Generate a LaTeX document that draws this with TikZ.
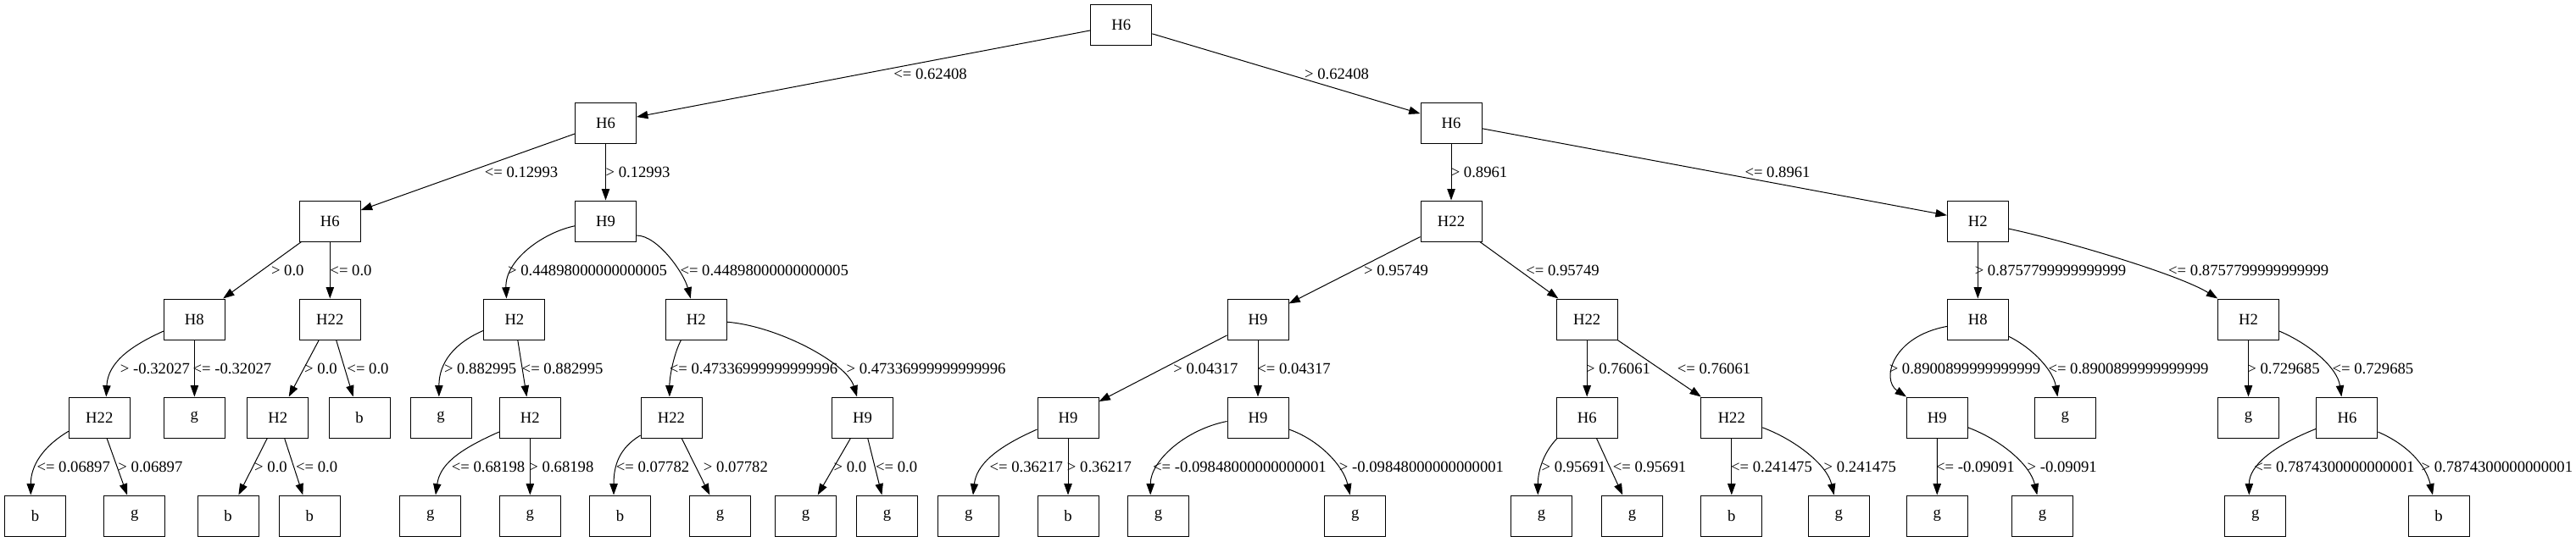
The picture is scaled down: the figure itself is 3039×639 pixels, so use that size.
\documentclass[tikz,border=0pt]{standalone}
\usepackage{fontspec}
\setmainfont{Liberation Serif}
\usetikzlibrary{arrows.meta}
\begin{document}
\begin{tikzpicture}[x=0.75pt,y=-0.75pt,
    box/.style={draw, line width=0.75pt, minimum width=54pt, minimum height=36pt,
      inner sep=0pt, font=\fontsize{14}{17}\selectfont},
    lbl/.style={inner sep=0pt, font=\fontsize{14}{17}\selectfont},
    arr/.style={line width=0.75pt, -{Triangle[length=10pt,width=7pt]}}]
  \useasboundingbox (0,0) rectangle (3039,639);

  % Split nodes, one row per depth (l = left, r = right)
  \foreach \n/\x/\y/\t in {
    root/1322.8/29/H6,
    l/714.5/145/H6, r/1712/145/H6,
    ll/389.3/261/H6, lr/714.5/261/H9, rl/1712/261/H22, rr/2333.3/261/H2,
    lll/229.4/377/H8, llr/389.3/377/H22, lrl/606.9/377/H2, lrr/821.3/377/H2,
    rll/1484/377/H9, rlr/1872.2/377/H22, rrl/2333.3/377/H8, rrr/2652.5/377/H2,
    llll/117.3/493/H22, lllr/229.4/493/g, llrl/327.7/493/H2, llrr/424/493/b,
    lrll/520/493/g, lrlr/625.3/493/H2, lrrl/792/493/H22, lrrr/1017.6/493/H9,
    rlll/1260/493/H9, rllr/1484/493/H9, rlrl/1872.2/493/H6, rlrr/2042.8/493/H22,
    rrll/2285.3/493/H9, rrlr/2436.3/493/g, rrrl/2652.5/493/g, rrrr/2768.9/493/H6} {
    \node [box] (\n) at (\x,\y) {\t};
  }
  % Leaves on the bottom row
  \foreach \n/\x/\t in {
    lllll/41.5/b, llllr/158.8/g, llrll/269/b, llrlr/365.3/b,
    lrlrl/507.8/g, lrlrr/625.3/g, lrrll/731.5/b, lrrlr/849.5/g,
    lrrrl/950.5/g, lrrrr/1046.5/g, rllll/1142.7/g, rlllr/1260/b,
    rllrl/1366.6/g, rllrr/1598.8/g, rlrll/1818.6/g, rlrlr/1925.5/g,
    rlrrl/2042.8/b, rlrrr/2169.3/g, rrlll/2285.2/g, rrllr/2409.4/g,
    rrrrl/2660.8/g, rrrrr/2877/b} {
    \node [box] (\n) at (\x,609) {\t};
  }

  % Straight edges
  \foreach \a/\b in {root/l, root/r, l/ll, l/lr, r/rl, r/rr, ll/lll, ll/llr,
    rl/rll, rl/rlr, rr/rrl, lll/lllr, llr/llrl, llr/llrr, lrl/lrlr, rll/rlll,
    rll/rllr, rlr/rlrl, rlr/rlrr, rrr/rrrl, llll/llllr, llrl/llrll, llrl/llrlr,
    lrlr/lrlrr, lrrl/lrrlr, lrrr/lrrrl, lrrr/lrrrr, rlll/rlllr, rlrl/rlrlr,
    rlrr/rlrrl, rrll/rrlll} {
    \draw [arr] (\a) -- (\b);
  }
  % Curved edges: start anchor, end anchor, control offsets
  \foreach \a/\sa/\b/\ba/\ux/\uy/\vx/\vy in {
    lr/189/lrl/111/-38/8/-2/-45,
    lr/335/lrr/105/25/0/-8/-30,
    lll/201/llll/72/-40/18/2/-40,
    lrl/200/lrll/95/-35/15/0/-40,
    lrr/234/lrrl/95/-8/15/0/-25,
    lrr/355/lrrr/105/60/5/-12/-40,
    rr/346/rrr/146/70/15/-45/-28,
    rrl/193/rrll/146/-65/12/-30/-20,
    rrl/331/rrlr/110/30/15/-5/-30,
    rrr/339/rrrr/105/35/15/-5/-35,
    llll/204/lllll/102/-30/18/0/-35,
    lrlr/205/lrlrl/76/-50/22/5/-35,
    lrrl/210/lrrll/107/-25/15/0/-35,
    rlll/201/rllll/78/-50/22/4/-35,
    rllr/187/rllrl/111/-50/10/0/-40,
    rllr/339/rllrr/104/35/12/-8/-35,
    rlrl/215/rlrll/100/-15/15/0/-30,
    rlrr/342/rlrrr/103/40/15/-8/-35,
    rrll/342/rrllr/104/40/15/-8/-35,
    rrrr/200/rrrrl/107/-50/20/0/-35,
    rrrr/335/rrrrr/106/35/15/-8/-35} {
    \draw [arr] (\a.\sa) .. controls +(\ux,\uy) and +(\vx,\vy) .. (\b.\ba);
  }

  % Edge labels, named after the child node
  \foreach \c/\x/\y/\t in {
    l/1097.6/87/<= 0.62408, r/1577/87/> 0.62408,
    ll/615/203/<= 0.12993, lr/752.5/203/> 0.12993,
    rl/1745/203/> 0.8961, rr/2097/203/<= 0.8961,
    lll/339.3/319/> 0.0, llr/414/319/<= 0.0,
    lrl/693/319/> 0.44898000000000005, lrr/901.7/319/<= 0.44898000000000005,
    rll/1647/319/> 0.95749, rlr/1843.5/319/<= 0.95749,
    rrl/2419/319/> 0.8757799999999999, rrr/2652.7/319/<= 0.8757799999999999,
    llll/183/435/> -0.32027, lllr/274/435/<= -0.32027,
    llrl/378.5/435/> 0.0, llrr/434/435/<= 0.0,
    lrll/566.6/435/> 0.882995, lrlr/663.6/435/<= 0.882995,
    lrrl/889/435/<= 0.47336999999999996, lrrr/1092.5/435/> 0.47336999999999996,
    rlll/1422.4/435/> 0.04317, rllr/1526.5/435/<= 0.04317,
    rlrl/1909/435/> 0.76061, rlrr/2022/435/<= 0.76061,
    rrll/2318/435/> 0.8900899999999999, rrlr/2511/435/<= 0.8900899999999999,
    rrrl/2694/435/> 0.729685, rrrr/2799.4/435/<= 0.729685,
    lllll/86.7/551/<= 0.06897, llllr/177.4/551/> 0.06897,
    llrll/319.5/551/> 0.0, llrlr/373.7/551/<= 0.0,
    lrlrl/576/551/<= 0.68198, lrlrr/662.4/551/> 0.68198,
    lrrll/770/551/<= 0.07782, lrrlr/867.9/551/> 0.07782,
    lrrrl/1002.9/551/> 0.0, lrrrr/1057.6/551/<= 0.0,
    rllll/1210.8/551/<= 0.36217, rlllr/1296.9/551/> 0.36217,
    rllrl/1462.4/551/<= -0.09848000000000001, rllrr/1677/551/> -0.09848000000000001,
    rlrll/1856.6/551/> 0.95691, rlrlr/1946/551/<= 0.95691,
    rlrrl/2090/551/<= 0.241475, rlrrr/2194.3/551/> 0.241475,
    rrlll/2330.4/551/<= -0.09091, rrllr/2432.7/551/> -0.09091,
    rrrrl/2753.9/551/<= 0.7874300000000001, rrrrr/2945.8/551/> 0.7874300000000001} {
    \node [lbl] (e\c) at (\x,\y) {\t};
  }
\end{tikzpicture}
\end{document}
